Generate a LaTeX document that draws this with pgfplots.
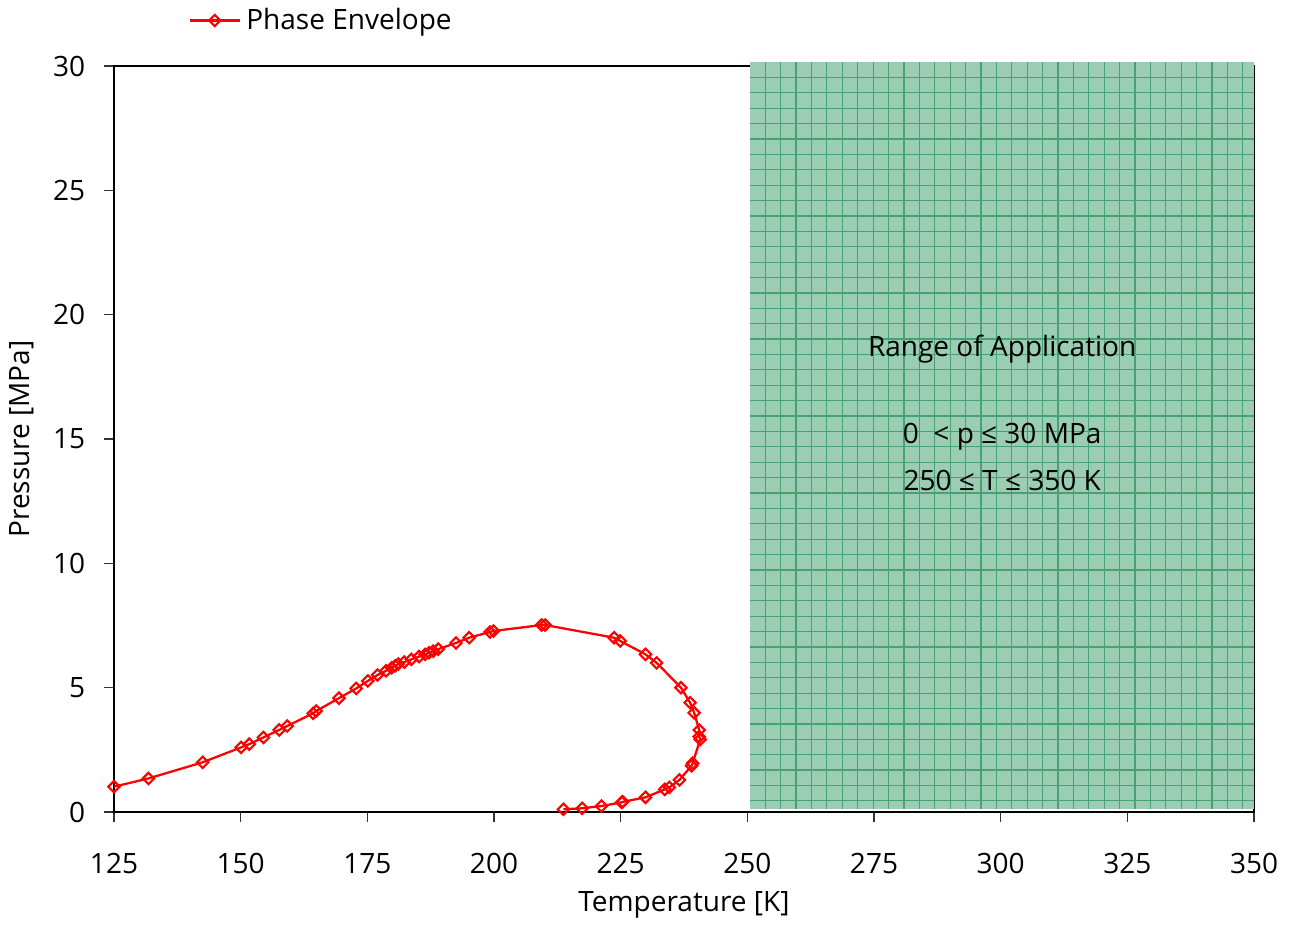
\documentclass[border=0pt]{standalone}
\usepackage{pgfplots}
\pgfplotsset{compat=1.18}
\usepackage{fontspec}
\setmainfont{Open Sans}
\definecolor{appfill}{RGB}{155,205,180}
\definecolor{appgrid}{RGB}{70,162,115}
\begin{document}
\fontsize{10.5}{12.6}\selectfont
\begin{tikzpicture}
\begin{axis}[name=ax, scale only axis, width=427.5pt, height=279.75pt,
  xmin=125, xmax=350, ymin=0, ymax=30,
  xtick={125,150,...,350}, ytick={0,5,...,30},
  xtick pos=bottom, ytick pos=left,
  tick align=outside, major tick length=3.75pt,
  tick style={black!80, line width=0.55pt},
  axis line style={black, line width=0.55pt},
  clip=false,
  /pgf/number format/assume math mode=true,
  ticklabel style={font=\fontsize{10.5}{12}\selectfont},
  xticklabel style={anchor=center, yshift=-15.6pt},
  yticklabel style={anchor=east, xshift=-3.4pt},
  xlabel={Temperature [K]}, ylabel={Pressure [MPa]},
  xlabel style={at={(axis description cs:0.5,-0.1247)}, anchor=center},
  ylabel style={at={(axis description cs:-0.0807,0.5)}, anchor=center, rotate=0},
  legend style={at={(0.058,1.061)}, anchor=west, draw=none, fill=none, font=\fontsize{10.5}{12}\selectfont},
  legend cell align=left,
  legend image code/.code={
    \draw[mark repeat=2,mark phase=2,#1] plot coordinates {(0cm,0cm) (0.33cm,0cm) (0.66cm,0cm)};
  },
]
\addplot[fill=appfill, draw=none, forget plot] coordinates {(250.5,0.13) (350,0.13) (350,30.16) (250.5,30.16)} -- cycle;
\pgfplotsinvokeforeach{1,...,32}{
  \draw[appgrid, line width=0.45pt] (axis cs:{250.5+3.04*#1},0.13) -- (axis cs:{250.5+3.04*#1},30.16);
}
\pgfplotsinvokeforeach{1,...,48}{
  \draw[appgrid, line width=0.45pt] (axis cs:250.5,{30.16-0.619*#1}) -- (axis cs:350,{30.16-0.619*#1});
}
\addplot[red, line width=0.85pt, mark=square, mark size=1.5pt, mark options={line width=0.8pt, solid, rotate=45}] coordinates {
(125,1.02) (131.8,1.35) (142.5,2.0) (150.1,2.6) (151.7,2.73) (154.5,3.0) (157.6,3.3) (159.2,3.46)
(164.3,3.97) (164.9,4.06) (169.4,4.58) (172.8,4.97) (175.1,5.27) (177.0,5.51) (178.7,5.68)
(179.8,5.80) (180.5,5.88) (181.1,5.95) (182.3,6.03) (183.7,6.14) (185.2,6.25) (186.4,6.34)
(187.2,6.41) (188.0,6.47) (189.0,6.55) (192.5,6.80) (195.1,7.01) (199.2,7.24) (199.9,7.28)
(209.4,7.52) (210.1,7.52) (223.7,7.01) (224.9,6.88) (229.9,6.34) (232.1,6.0) (236.9,5.0)
(238.7,4.40) (239.5,3.99) (240.5,3.30) (240.5,3.03) (240.7,2.92) (239.2,1.96) (239.0,1.86)
(236.6,1.29) (234.6,0.99) (233.7,0.91) (229.9,0.59) (225.4,0.41) (225.2,0.39) (221.2,0.24)
(217.4,0.15) (213.7,0.11)
};
\addlegendentry{Phase Envelope}
\node[anchor=center] at (axis cs:300.3,18.62) {Range of Application};
\node[anchor=center] at (axis cs:300.3,15.08) {0 \ < p ≤ 30 MPa};
\node[anchor=center] at (axis cs:300.3,13.35) {250 ≤ T ≤ 350 K};
\end{axis}
\pgfresetboundingbox
\path[use as bounding box] ([shift={(-42.75pt,-43.125pt)}]ax.south west) rectangle ([shift={(443.25pt,304.5pt)}]ax.south west);
\end{tikzpicture}
\end{document}
